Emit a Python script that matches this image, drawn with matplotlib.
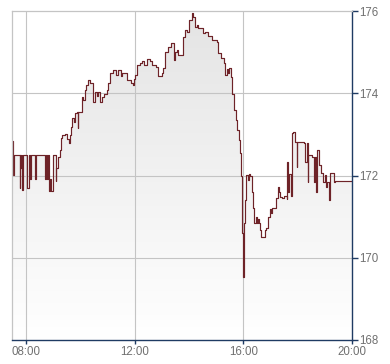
import numpy as np
import matplotlib
matplotlib.use("Agg")
import matplotlib.pyplot as plt

# minutes after 07:30 at which each price level starts (step chart)
minutes = [0, 2.2, 3.8, 16.3, 18.1, 19.2, 20.5, 21.4, 23.2, 32.5, 35.8, 39.1, 40.8,
           50.8, 52.3, 72.9, 74.4, 76.6, 79.5, 81.0, 83.2, 85.4, 89.2, 95.8, 97.2,
           100.9, 104.7, 107.5, 109.7, 117.0, 120.8, 124.5, 126.3, 129.0, 131.8,
           136.2, 138.4, 142.9, 144.4, 145.7, 153.2, 156.1, 160.5, 163.8, 167.1,
           171.6, 178.8, 182.6, 185.9, 189.2, 193.6, 198.0, 202.5, 208.4, 212.0,
           215.7, 222.3, 229.0, 232.3, 240.0, 243.3, 253.3, 262.1, 266.5, 268.7,
           272.0, 275.3, 282.0, 286.4, 290.8, 296.8, 304.0, 307.8, 317.3, 321.7,
           329.9, 333.4, 337.2, 344.4, 349.7, 357.7, 360.3, 363.0, 365.9, 376.2,
           381.3, 385.7, 390.1, 396.1, 399.6, 402.3, 407.2, 410.0, 421.1, 425.5,
           432.1, 440.2, 451.3, 454.2, 460.2, 467.5, 470.3, 473.4, 476.3, 478.5,
           482.3, 484.5, 490.3, 494.0, 495.5, 500.6, 502.8, 504.4, 506.6, 508.8,
           511.7, 513.9, 516.1, 519.8, 521.6, 524.9, 528.7, 530.0, 531.5, 533.7,
           537.0, 539.2, 541.4, 543.6, 546.9, 549.1, 556.9, 560.2, 564.6, 567.9,
           571.2, 573.4, 582.3, 585.6, 588.9, 591.1, 595.5, 599.9, 605.4, 606.5,
           609.8, 612.0, 615.4, 616.5, 619.8, 624.2, 627.5, 628.6, 644.1, 646.4,
           650.8, 652.2, 653.6, 661.7, 665.0, 667.3, 670.6, 672.8, 676.1, 681.6,
           684.9, 689.3, 692.7, 694.9, 698.2, 700.4, 709.2, 712.5, 750.0]
prices = [172.84, 172.02, 172.50, 171.69, 172.50, 172.18, 172.50, 171.65, 172.50,
          171.69, 172.50, 171.91, 172.50, 171.91, 172.50, 171.91, 172.50, 171.91,
          172.50, 171.63, 171.91, 171.63, 172.50, 171.87, 172.18, 172.46, 172.63,
          172.91, 172.99, 173.02, 172.90, 172.79, 173.00, 173.19, 173.40, 173.30,
          173.52, 173.56, 173.16, 173.56, 173.92, 173.85, 174.08, 174.20, 174.33,
          174.25, 173.80, 174.04, 173.95, 174.04, 173.80, 173.92, 173.98, 174.08,
          174.25, 174.50, 174.56, 174.45, 174.57, 174.42, 174.50, 174.33, 174.25,
          174.20, 174.35, 174.45, 174.70, 174.73, 174.78, 174.70, 174.84, 174.80,
          174.69, 174.65, 174.43, 174.50, 174.62, 175.02, 175.14, 175.22, 174.82,
          175.00, 175.06, 174.94, 175.38, 175.55, 175.50, 175.79, 175.95, 175.87,
          175.63, 175.67, 175.60, 175.47, 175.50, 175.40, 175.30, 175.26, 174.98,
          174.86, 174.73, 174.45, 174.60, 174.50, 174.62, 174.40, 173.99, 173.60,
          173.35, 173.10, 172.87, 172.55, 171.98, 170.60, 169.54, 170.85, 171.41,
          172.02, 171.90, 172.05, 171.98, 171.73, 171.61, 171.21, 170.85, 171.00,
          170.85, 170.95, 170.85, 170.68, 170.50, 170.68, 170.73, 171.00, 171.20,
          171.10, 171.21, 171.46, 171.73, 171.60, 171.49, 171.46, 171.50, 171.42,
          172.34, 171.60, 172.04, 171.50, 173.03, 173.07, 172.83, 172.22, 172.83,
          172.80, 172.34, 172.79, 171.85, 172.50, 172.46, 171.85, 172.46, 171.61,
          172.63, 172.26, 172.06, 171.85, 172.02, 171.72, 171.85, 171.41, 172.06,
          171.85, 171.87, 171.87]

x_ticks = [8, 12, 16, 20]
x_labels = ["08:00", "12:00", "16:00", "20:00"]
y_ticks = [168, 170, 172, 174, 176]
y_labels = ["168", "170", "172", "174", "176"]

t = 7.5 + np.array(minutes) / 60.0
p = np.array(prices)

plt.rcParams['font.family'] = ['Liberation Sans', 'DejaVu Sans']

fig = plt.figure(figsize=(3.9, 3.64), dpi=100)
ax = fig.add_axes([12.3 / 390, 1 - 340 / 364, (352 - 12.3) / 390, (340 - 11.3) / 364])

# gradient fill under the line
fb = ax.fill_between(t, p, 168, step='post', facecolor='none', edgecolor='none')
grad = np.linspace(0, 1, 256).reshape(-1, 1)
cmap = matplotlib.colors.LinearSegmentedColormap.from_list('g', ['#ffffff', '#e4e4e4'])
im = ax.imshow(grad, extent=[7.5, 20, 168, 176], aspect='auto', cmap=cmap,
               origin='lower', zorder=1, interpolation='bilinear')
im.set_clip_path(fb.get_paths()[0], ax.transData)
ax.set_xlim(7.5, 20)
ax.set_ylim(168, 176)

# grid
for xv in x_ticks[:-1]:
    ax.axvline(xv, color='#c4c4c4', lw=0.8, zorder=2)
for yv in y_ticks[1:-1]:
    ax.axhline(yv, color='#c4c4c4', lw=0.8, zorder=2)

ax.step(t, p, where='post', color='#6e2328', lw=0.85, zorder=3)

for s in ['left', 'top']:
    ax.spines[s].set_color('#c4c4c4')
    ax.spines[s].set_linewidth(0.9)
for s in ['right', 'bottom']:
    ax.spines[s].set_color('#1f3b63')
    ax.spines[s].set_linewidth(1.0)
for s in ax.spines.values():
    s.set_zorder(4)

ax.yaxis.tick_right()
ax.set_yticks(y_ticks)
ax.set_yticklabels(y_labels)
ax.set_xticks(x_ticks)
ax.set_xticklabels(x_labels)
ax.tick_params(axis='y', direction='out', length=4, width=1, color='#1f3b63',
               labelcolor='#707070', labelsize=8.3, pad=1)
ax.tick_params(axis='x', direction='out', length=3, width=1, color='#1f3b63',
               labelcolor='#707070', labelsize=8.3, pad=1)

fig.savefig('out.png', dpi=100)
